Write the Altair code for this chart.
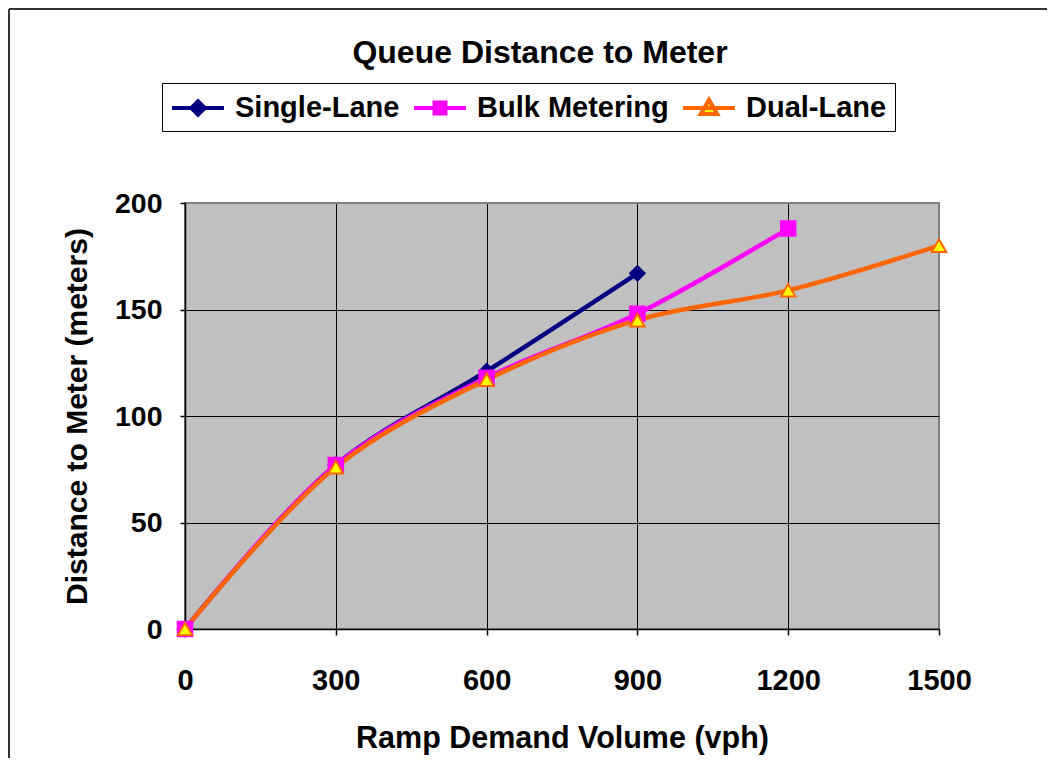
import altair as alt
import pandas as pd

# ---- data ----
series = ["Single-Lane", "Bulk Metering", "Dual-Lane"]
volume = [0, 300, 600, 900, 1200, 1500]
single_lane = [0, 77, 121, 167]
bulk_metering = [0, 77, 118, 148, 188]
dual_lane = [0, 76, 117, 145, 159, 180]
x_ticks = [0, 300, 600, 900, 1200, 1500]
y_ticks = [0, 50, 100, 150, 200]

# ---- styles ----
line_colors = ["#000080", "#FF00FF", "#FF6600"]
marker_fill = ["#000080", "#FF00FF", "#FFFF00"]
marker_stroke = ["#000080", "#FF00FF", "#FF6600"]
marker_shapes = ["diamond", "square", "triangle-up"]
legend_paths = [
    "M-1.73,0L1.73,0M0,-0.45L0.45,0L0,0.45L-0.45,0Z",
    "M-1.73,0L1.73,0M-0.36,-0.36L0.36,-0.36L0.36,0.36L-0.36,0.36Z",
    "M-1.73,0L1.73,0M0,-0.55L0.55,0.4L-0.55,0.4Z",
]
FONT = "Liberation Sans"

rows = []
for s, vals in zip(series, [single_lane, bulk_metering, dual_lane]):
    for i, v in enumerate(vals):
        rows.append({"series": s, "marker": s, "volume": volume[i], "distance": v})
df = pd.DataFrame(rows)

x_enc = alt.X(
    "volume:Q",
    scale=alt.Scale(domain=[0, 1500], nice=False, zero=True),
    axis=alt.Axis(
        values=x_ticks, title="Ramp Demand Volume (vph)", format="d",
        labelPadding=31, titlePadding=28, tickSize=6, labelFlush=False,
        labelFontSize=29, titleFontSize=30.5,
        gridColor={"condition": {"test": "datum.value >= 1500", "value": "#808080"}, "value": "black"},
    ),
)
y_enc = alt.Y(
    "distance:Q",
    scale=alt.Scale(domain=[0, 200], nice=False),
    axis=alt.Axis(
        values=y_ticks, title="Distance to Meter (meters)", format="d",
        labelPadding=18, titlePadding=22, tickSize=5, labelFlush=False,
        labelFontSize=28.5, titleFontSize=30,
        gridColor={"condition": {"test": "datum.value >= 200", "value": "#808080"}, "value": "black"},
    ),
)

legend = alt.Legend(
    orient="none", legendX=-23, legendY=-120, direction="horizontal", columns=3,
    title=None, labelFont=FONT, labelFontSize=29, labelFontWeight="bold", labelColor="black",
    labelLimit=400,
    symbolSize=900, symbolStrokeWidth=4, symbolOffset=11, labelOffset=20, columnPadding=6,
    strokeColor="black", fillColor="white", padding=8, symbolOpacity=1,
)

lines = alt.Chart(df).mark_line(strokeWidth=4.5, interpolate="catmull-rom").encode(
    x=x_enc, y=y_enc,
    color=alt.Color("series:N", scale=alt.Scale(domain=series, range=line_colors), legend=None),
)

points = alt.Chart(df).mark_point(filled=True, size=210, strokeWidth=2, opacity=1).encode(
    x=x_enc, y=y_enc,
    fill=alt.Fill("marker:N", scale=alt.Scale(domain=series, range=marker_fill), legend=None),
    stroke=alt.Stroke("marker:N", scale=alt.Scale(domain=series, range=marker_stroke), legend=None),
    shape=alt.Shape("marker:N", scale=alt.Scale(domain=series, range=marker_shapes), legend=None),
)

legend_layer = alt.Chart(df).mark_point(filled=True, opacity=1).encode(
    x=x_enc, y=y_enc,
    fill=alt.Fill("series:N", scale=alt.Scale(domain=series, range=marker_fill), legend=legend),
    stroke=alt.Stroke("series:N", scale=alt.Scale(domain=series, range=line_colors), legend=legend),
    shape=alt.Shape("series:N", scale=alt.Scale(domain=series, range=legend_paths), legend=legend),
).transform_filter("false")

frame_df = pd.DataFrame({"k": [0]})
left_border = alt.Chart(frame_df).mark_rule(color="#333333", strokeWidth=2).encode(
    x=alt.value(-176), y=alt.value(-194), y2=alt.value(600)
)
top_border = alt.Chart(frame_df).mark_rule(color="#333333", strokeWidth=2).encode(
    x=alt.value(-176), x2=alt.value(900), y=alt.value(-194)
)

chart = (
    alt.layer(lines, points, legend_layer, left_border, top_border)
    .resolve_scale(shape="independent", fill="independent", stroke="independent")
    .properties(
        width=754, height=426,
        background="white",
        autosize=alt.AutoSizeParams(type="none"),
        padding={"left": 177, "top": 195, "right": 108, "bottom": 129},
        title=alt.Title("Queue Distance to Meter", font=FONT, fontSize=32, fontWeight="bold",
                        color="black", anchor="middle", baseline="alphabetic",
                        dx=-22, dy=87, offset=0),
    )
    .configure_view(fill="#C0C0C0", stroke="#808080", strokeWidth=2)
    .configure_axis(
        labelFont=FONT, labelFontWeight="bold", labelColor="black",
        titleFont=FONT, titleFontWeight="bold", titleColor="black",
        domainColor="black", domainWidth=1.5, tickColor="black", tickWidth=1.5,
        gridOpacity=1, gridWidth=1,
    )
)

chart.save("out.html", embed_options={"renderer": "svg", "actions": False})
